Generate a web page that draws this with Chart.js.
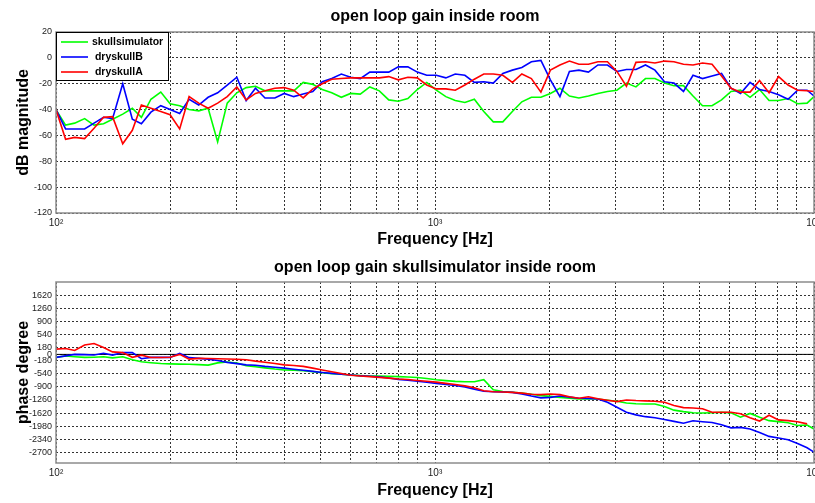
<!DOCTYPE html>
<html>
<head>
<meta charset="utf-8">
<script src="https://cdn.jsdelivr.net/npm/chart.js@4.4.1/dist/chart.umd.min.js"></script>
<style>
  html, body { margin: 0; padding: 0; background: #fff; }
  #wrap { position: relative; width: 815px; height: 503px; }
  .pane { position: absolute; left: 0; width: 815px; }
</style>
</head>
<body>
<div id="wrap">
  <div class="pane" style="top:0;height:252px"><canvas id="gain" width="815" height="252"></canvas></div>
  <div class="pane" style="top:252px;height:251px"><canvas id="phase" width="815" height="251"></canvas></div>
</div>
<script>
// Measurement frequencies (1/12 octave steps) in Hz
const freqHz = [100,106,112,119,126,133.5,141,150,159,168,178,189,200,212,224.5,238,252,267,283,300,
  317.5,336,356,378,400,424,449,476,504,534,566,599,635,673,713,755,800,848,898,951,
  1008,1068,1131,1199,1270,1345,1425,1510,1600,1695,1796,1903,2016,2136,2263,2397,2540,2691,2851,3020,
  3200,3390,3592,3805,4032,4271,4525,4795,5080,5382,5702,6041,6400,6781,7184,7611,8063,8543,9051,9589,10000];

// Open loop gain magnitude, dB
const gainSkullSim = [-40,-52,-50.5,-47,-52,-51,-47.5,-43.5,-39,-46,
  -32,-26.5,-35.5,-37,-40,-41,-39,-65,-35,-27,
  -23,-22,-25.5,-25.5,-25.5,-25.5,-19,-20.5,-24.5,-27,
  -30.5,-27.5,-28,-22.5,-25.5,-32.5,-33.5,-31.5,-24.5,-19,
  -25,-30,-33,-34.5,-32,-41.5,-49.5,-49.5,-41.5,-34,
  -30.5,-30.5,-27.5,-23.5,-29.5,-31,-29.5,-27.5,-26,-25,
  -19.5,-22.5,-16,-16,-19.5,-21.5,-21.5,-29.5,-37,-37,
  -32.5,-26,-25,-30.5,-24.5,-33,-33,-31.5,-35.5,-35,-30];
const gainDrySkullB = [-40,-55,-55,-55,-50.5,-46,-47,-20,-47.5,-51,
  -42,-37,-40,-43,-32,-36.5,-30.5,-27,-21,-15,
  -33,-23.5,-31,-31,-27.5,-30,-28,-26,-18.5,-16,
  -12.5,-15,-16,-11,-11,-11,-7,-7,-11,-13.5,
  -13.5,-15.5,-12.5,-13.5,-19,-18.5,-19.5,-12,-9.5,-7.5,
  -3,-2,-17,-30,-10.5,-9.5,-11,-5.5,-5.5,-10.5,
  -9,-9,-5.5,-9.5,-18.5,-19.5,-26,-13.5,-16,-14,
  -12,-23.5,-27.5,-19,-24.5,-26,-28.5,-32,-25,-25,-29.5];
const gainDrySkullA = [-40,-63,-61.5,-62.5,-54.5,-46,-45.5,-66.5,-56,-36.5,
  -39,-41.5,-44,-55,-30,-35,-39,-35,-30,-22.5,
  -32.5,-27.5,-25.5,-23.5,-23,-25,-31,-24,-20,-16.5,
  -16,-15.5,-15.5,-15.5,-15.5,-14.5,-17,-15,-15.5,-21,
  -24,-24,-25,-21,-16.5,-12.5,-12.5,-13.5,-19,-12.5,
  -16,-26.5,-9.5,-5.5,-2.5,-5,-5,-3,-3,-10.5,
  -22,-3.5,-3,-4,-2.5,-3,-5,-5.5,-4,-5,
  -14,-23.5,-26.5,-26.5,-17.5,-27,-14.5,-21,-25,-25.5,-26];

// Open loop phase, degrees
const phaseSkullSim = [-83,-45,-65,-83,-80,-65,-95,-65,-150,-205,
  -230,-252,-262,-268,-274,-283,-295,-235,-210,-240,
  -310,-340,-372,-405,-430,-435,-450,-475,-505,-530,
  -550,-570,-585,-595,-600,-605,-615,-625,-640,-665,
  -700,-725,-745,-755,-755,-700,-980,-1025,-1045,-1065,
  -1100,-1140,-1160,-1186,-1210,-1232,-1232,-1232,-1265,-1296,
  -1342,-1365,-1370,-1370,-1440,-1540,-1580,-1610,-1618,-1610,
  -1600,-1615,-1735,-1630,-1735,-1830,-1857,-1890,-1965,-1950,-2060];
const phaseDrySkullB = [-83,-40,0,-5,-15,30,-20,54,50,-120,
  -82,-82,-82,30,-90,-111,-130,-170,-220,-255,
  -290,-300,-330,-355,-380,-410,-440,-470,-500,-525,
  -550,-570,-590,-605,-620,-650,-690,-710,-740,-770,
  -800,-830,-860,-900,-960,-1020,-1030,-1040,-1048,-1090,
  -1150,-1200,-1186,-1150,-1180,-1210,-1220,-1232,-1320,-1460,
  -1600,-1670,-1720,-1750,-1800,-1850,-1900,-1835,-1860,-1880,
  -1945,-2030,-2015,-2060,-2160,-2265,-2310,-2360,-2460,-2580,-2700];
const phaseDrySkullA = [146,164,110,260,300,190,70,50,-80,-20,
  -85,-85,-80,0,-130,-110,-115,-120,-128,-135,
  -148,-185,-215,-250,-290,-305,-330,-380,-430,-480,
  -530,-575,-595,-615,-635,-655,-680,-695,-720,-740,
  -765,-800,-830,-870,-920,-1005,-1030,-1040,-1048,-1070,
  -1100,-1112,-1094,-1112,-1170,-1210,-1170,-1225,-1265,-1305,
  -1259,-1275,-1285,-1295,-1320,-1410,-1470,-1480,-1500,-1600,
  -1600,-1600,-1640,-1750,-1840,-1680,-1810,-1830,-1860,-1920];

// Axis ticks
const freqTicks = [100,200,300,400,500,600,700,800,900,1000,2000,3000,4000,5000,6000,7000,8000,9000,10000];
const decadeLabels = { 100: '10\u00B2', 1000: '10\u00B3', 10000: '10\u2074' };
const gainTicks = [20,0,-20,-40,-60,-80,-100,-120];
const phaseTicks = [1620,1260,900,540,180,0,-180,-540,-900,-1260,-1620,-1980,-2340,-2700];

const seriesNames = ['skullsimulator', ' dryskullB', ' dryskullA'];
const seriesColors = ['#00ff00', '#0000ff', '#ff0000'];

const FAMILY = '"Liberation Sans", Arial, Helvetica, sans-serif';
Chart.defaults.font.family = FAMILY;
Chart.defaults.color = '#1a1a1a';

const pts = (vals) => freqHz.map((f, i) => ({ x: f, y: vals[i] }));

function lineSet(idx, vals) {
  return {
    label: seriesNames[idx],
    data: pts(vals),
    borderColor: seriesColors[idx],
    backgroundColor: seriesColors[idx],
    borderWidth: 1.6,
    pointRadius: 0,
    tension: 0,
    fill: false,
    order: 3 - idx,
    inLegend: true
  };
}

// Axes box and the boxed legend drawn over the plot area
const boxPlugin = {
  id: 'axesBox',
  afterDatasetsDraw(chart, args, opts) {
    const { ctx, chartArea: a } = chart;
    ctx.save();
    ctx.strokeStyle = '#8c8c8c';
    ctx.lineWidth = 1.5;
    ctx.strokeRect(a.left, a.top, a.right - a.left, a.bottom - a.top);
    if (opts.legend) {
      const x = a.left, y = a.top, w = 112, h = 48;
      ctx.fillStyle = '#fff';
      ctx.fillRect(x, y, w, h);
      ctx.strokeStyle = '#000';
      ctx.lineWidth = 1;
      ctx.strokeRect(x + 0.5, y + 0.5, w, h);
      ctx.font = 'bold 10.5px ' + FAMILY;
      ctx.textBaseline = 'middle';
      ctx.textAlign = 'left';
      const items = chart.data.datasets.filter(d => d.inLegend);
      items.forEach((d, i) => {
        const ry = y + 10 + i * 15;
        ctx.strokeStyle = d.borderColor;
        ctx.lineWidth = 1.6;
        ctx.beginPath();
        ctx.moveTo(x + 5, ry);
        ctx.lineTo(x + 32, ry);
        ctx.stroke();
        ctx.fillStyle = '#000';
        ctx.fillText(d.label, x + 36, ry);
      });
    }
    ctx.restore();
  }
};

const tickFont = { size: 9, family: FAMILY };
const boldFont = { size: 16, weight: 'bold', family: FAMILY };

function xAxis(height) {
  return {
    type: 'logarithmic',
    min: 100, max: 10000,
    afterBuildTicks: s => { s.ticks = freqTicks.map(v => ({ value: v })); },
    afterFit: s => { s.height = height; s.paddingLeft = 0; s.paddingRight = 0; },
    grid: { color: '#333', lineWidth: 1, drawTicks: false },
    border: { display: false, dash: [2, 2] },
    ticks: {
      autoSkip: false, maxRotation: 0, minRotation: 0, padding: 4,
      font: { size: 10, family: FAMILY }, color: '#222',
      callback: v => decadeLabels[v] || ''
    },
    title: { display: true, text: 'Frequency [Hz]', font: boldFont, color: '#000', padding: { top: 0, bottom: 2.4 } }
  };
}

function yAxis(min, max, tickList, label) {
  return {
    min, max,
    afterBuildTicks: s => { s.ticks = tickList.map(v => ({ value: v })); },
    afterFit: s => { s.width = 56; s.paddingTop = 0; s.paddingBottom = 0; },
    grid: { color: '#333', lineWidth: 1, drawTicks: false },
    border: { display: false, dash: [2, 2] },
    ticks: {
      autoSkip: false, padding: 4, font: tickFont, color: '#222',
      callback: v => String(v)
    },
    title: { display: true, text: label, font: boldFont, color: '#000', padding: { top: 14, bottom: 0 } }
  };
}

function baseOptions(title, titlePad, xh, ymin, ymax, yticks, ylabel, legend) {
  return {
    responsive: false,
    animation: false,
    events: [],
    layout: { padding: { left: 0, right: 1, top: 0, bottom: 0 } },
    scales: {
      x: xAxis(xh),
      y: yAxis(ymin, ymax, yticks, ylabel)
    },
    plugins: {
      legend: { display: false },
      tooltip: { enabled: false },
      title: { display: true, fullSize: false, text: title, font: boldFont, color: '#000', padding: titlePad },
      axesBox: { legend }
    }
  };
}

new Chart(document.getElementById('gain'), {
  type: 'line',
  data: {
    datasets: [
      lineSet(0, gainSkullSim),
      lineSet(1, gainDrySkullB),
      lineSet(2, gainDrySkullA)
    ]
  },
  options: baseOptions('open loop gain inside room', { top: 7.4, bottom: 5.4 }, 39,
    -120, 20, gainTicks, 'dB magnitude', true),
  plugins: [boxPlugin]
});

new Chart(document.getElementById('phase'), {
  type: 'line',
  data: {
    datasets: [
      lineSet(0, phaseSkullSim),
      lineSet(1, phaseDrySkullB),
      lineSet(2, phaseDrySkullA),
      {
        label: 'zero',
        data: [{ x: 100, y: 0 }, { x: 10000, y: 0 }],
        borderColor: '#000', borderWidth: 1, pointRadius: 0, order: 10
      }
    ]
  },
  options: baseOptions('open loop gain skullsimulator inside room', { top: 6.4, bottom: 4.4 }, 40,
    -3000, 2000, phaseTicks, 'phase degree', false),
  plugins: [boxPlugin]
});
</script>
</body>
</html>
